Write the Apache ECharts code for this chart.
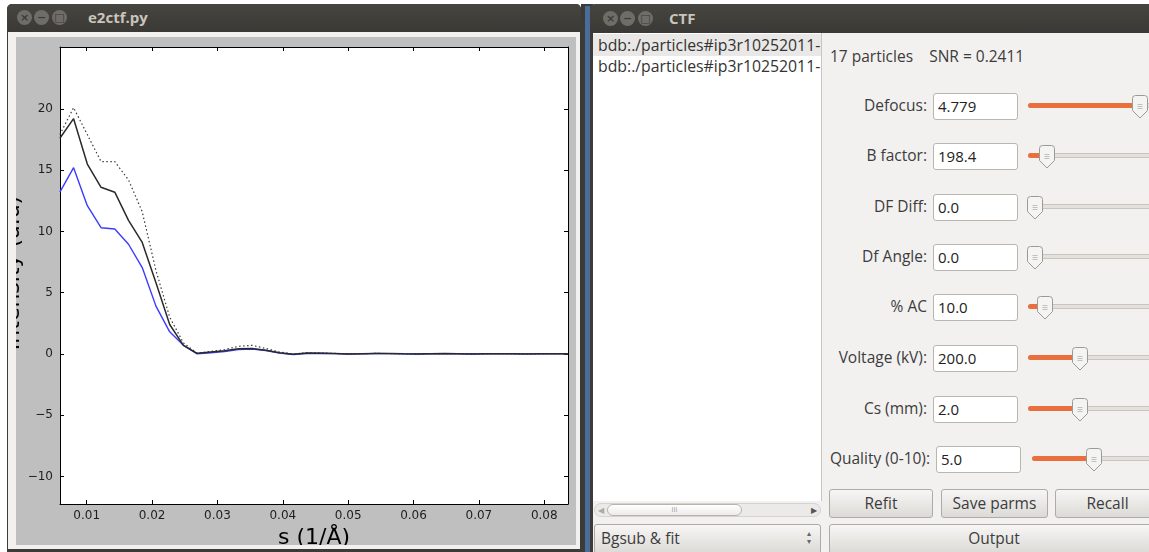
<!DOCTYPE html>
<html>
<head>
<meta charset="utf-8">
<title>e2ctf.py / CTF</title>
<script src="https://cdn.jsdelivr.net/npm/echarts@6/dist/echarts.min.js"></script>
<style>
html, body { margin: 0; padding: 0; width: 1149px; height: 552px; overflow: hidden; background: #ffffff; font-family: "Open Sans", "DejaVu Sans", sans-serif; }
.abs { position: absolute; box-sizing: border-box; }
.titlebar { background: linear-gradient(#46453f, #3a3935); color: #c9c5bc; font-weight: bold; font-size: 15px; }
.wbtn { position: absolute; width: 15px; height: 15px; border-radius: 50%; background: #6f6d68; color: #3c3b37; font-size: 11px; line-height: 15px; text-align: center; font-weight: bold; font-family: "DejaVu Sans", sans-serif; }
.lbl { color: #3c3c3c; font-size: 15.5px; text-align: right; white-space: nowrap; }
.inp { background: #fff; border: 1px solid #b9b6b0; border-radius: 3px; font-size: 15px; color: #222; padding-left: 4px; line-height: 24px; }
.track { height: 5px; border-radius: 3px; background: #e4e1dd; border: 1px solid #c8c4be; }
.fill { height: 5px; border-radius: 3px; background: #e9703c; }
.btn { background: linear-gradient(#f7f6f5, #dcdad6); border: 1px solid #aeaba6; border-radius: 3px; color: #3c3c3c; font-size: 15.5px; text-align: center; }
.item { font-size: 15.8px; color: #333; white-space: nowrap; padding-left: 4px; }
</style>
</head>
<body>
<!-- e2ctf.py window -->
<div class="abs" style="left:7px;top:4px;width:574px;height:548px;background:#3c3b37;border-radius:5px 5px 0 0;"></div>
<div class="abs titlebar" style="left:7px;top:4px;width:574px;height:28px;border-radius:5px 5px 0 0;">
  <div class="wbtn" style="left:10px;top:6px;">×</div>
  <div class="wbtn" style="left:27px;top:6px;">−</div>
  <div class="wbtn" style="left:45px;top:6px;">□</div>
  <div class="abs" style="left:81px;top:3px;">e2ctf.py</div>
</div>
<div class="abs" style="left:8px;top:32px;width:572px;height:517px;background:#f2f1f0;"></div>
<div id="chart" class="abs" style="left:16px;top:37px;width:560px;height:508px;"></div>

<!-- CTF window -->
<div class="abs" style="left:581px;top:4px;width:12px;height:548px;background:#3c3b37;"></div>
<div class="abs" style="left:585px;top:6px;width:5px;height:546px;background:#4b6c98;"></div>
<div class="abs titlebar" style="left:590px;top:4px;width:559px;height:29px;border-radius:5px 0 0 0;">
  <div class="wbtn" style="left:13px;top:7px;">×</div>
  <div class="wbtn" style="left:30px;top:7px;">−</div>
  <div class="wbtn" style="left:48px;top:7px;">□</div>
  <div class="abs" style="left:79px;top:4px;">CTF</div>
</div>
<div class="abs" style="left:593px;top:33px;width:556px;height:519px;background:#f2f1f0;"></div>
<div class="abs" style="left:593px;top:33px;width:229px;height:468px;background:#ffffff;border-right:1px solid #c9c6c0;"></div>
<div class="abs" style="left:593px;top:34px;width:228px;height:22px;background:#e9e8e6;"></div>
<div class="abs item" style="left:594px;top:34px;width:227px;overflow:hidden;">bdb:./particles#ip3r10252011-</div>
<div class="abs item" style="left:594px;top:55px;width:227px;overflow:hidden;">bdb:./particles#ip3r10252011-</div>
<!-- horizontal scrollbar -->
<div class="abs" style="left:594px;top:503px;width:227px;height:14px;background:#ebeae8;border-radius:7px;border:1px solid #d6d3ce;"></div>
<div class="abs" style="left:607px;top:504px;width:135px;height:12px;background:linear-gradient(#ffffff,#ecebea);border-radius:6px;border:1px solid #b7b4ae;font-size:7px;color:#999;text-align:center;line-height:10px;">III</div>
<div class="abs" style="left:598px;top:504px;font-size:8px;color:#aaa;">◀</div>
<div class="abs" style="left:811px;top:504px;font-size:8px;color:#555;">▶</div>
<!-- combo -->
<div class="abs btn" style="left:594px;top:524px;width:227px;height:30px;text-align:left;padding-left:6px;line-height:27px;">Bgsub &amp; fit</div>
<div class="abs" style="left:807px;top:529px;font-size:8px;color:#666;line-height:8px;">▴<br>▾</div>

<div class="abs lbl" style="left:830px;top:45px;text-align:left;">17 particles&nbsp;&nbsp;&nbsp; SNR = 0.2411</div>
<div id="rows"></div>

<div class="abs btn" style="left:829px;top:489px;width:104px;height:29px;line-height:26px;">Refit</div>
<div class="abs btn" style="left:941px;top:489px;width:107px;height:29px;line-height:26px;">Save parms</div>
<div class="abs btn" style="left:1055px;top:489px;width:105px;height:29px;line-height:26px;">Recall</div>
<div class="abs btn" style="left:829px;top:524px;width:330px;height:30px;line-height:27px;">Output</div>

<script>
// CTF parameter rows: label, field text, slider knob position
const paramLabels = ['Defocus:', 'B factor:', 'DF Diff:', 'Df Angle:', '% AC', 'Voltage (kV):', 'Cs (mm):', 'Quality (0-10):'];
const paramValues = ['4.779', '198.4', '0.0', '0.0', '10.0', '200.0', '2.0', '5.0'];
const rowY = [106, 156, 207, 257, 307, 358, 409, 459];
const knobX = [1140, 1047, 1035, 1035, 1045, 1080, 1080, 1094];

const rowsEl = document.getElementById('rows');
paramLabels.forEach((lab, i) => {
  const y = rowY[i];
  const sh = i === 7 ? 3 : 0;
  const trackL = 1028 + sh + (i === 7 ? 1 : 0);
  const hasFill = knobX[i] > trackL + 10;
  let html = '';
  html += `<div class="abs lbl" style="left:790px;width:${137 + sh}px;top:${y - 12}px;">${lab}</div>`;
  html += `<div class="abs inp" style="left:${933 + sh}px;top:${y - 13}px;width:85px;height:27px;">${paramValues[i]}</div>`;
  html += `<div class="abs track" style="left:${trackL}px;top:${y - 3}px;width:${1160 - trackL}px;"></div>`;
  if (hasFill) html += `<div class="abs fill" style="left:${trackL}px;top:${y - 3}px;width:${knobX[i] - trackL}px;"></div>`;
  html += `<svg class="abs" style="left:${knobX[i] - 8}px;top:${y - 11}px;" width="16" height="24" viewBox="0 0 16 24">
    <path d="M3.5,0.5 H12.5 Q15.5,0.5 15.5,3.5 V15.5 L8,23 L0.5,15.5 V3.5 Q0.5,0.5 3.5,0.5 Z" fill="#f4f4f3" stroke="#9c9a96"/>
    <path d="M5.5,9.5 H10.5 M5.5,11.5 H10.5 M5.5,13.5 H10.5" stroke="#c2c0bc"/></svg>`;
  rowsEl.insertAdjacentHTML('beforeend', html);
});

// Radial power spectrum data: s (1/Å) and intensities
const sValues = [0.0059, 0.0080, 0.0101, 0.0122, 0.0143, 0.0164, 0.0185, 0.0206, 0.0227, 0.0248,
  0.0269, 0.0290, 0.0311, 0.0332, 0.0353, 0.0374, 0.0395, 0.0416, 0.0437, 0.0458,
  0.0479, 0.0500, 0.0521, 0.0542, 0.0563, 0.0584, 0.0605, 0.0626, 0.0647, 0.0668,
  0.0689, 0.0710, 0.0731, 0.0752, 0.0773, 0.0794, 0.0815, 0.0836];
const fitCurve = [17.6, 19.2, 15.5, 13.6, 13.2, 10.9, 9.1, 5.8, 2.4, 0.7,
  0.05, 0.15, 0.25, 0.42, 0.45, 0.3, 0.1, -0.02, 0.08, 0.06,
  0.03, 0.0, 0.02, 0.04, 0.03, 0.01, 0.0, 0.02, 0.03, 0.02,
  0.0, 0.01, 0.02, 0.01, 0.0, 0.01, 0.02, 0.01];
const bgsubCurve = [13.2, 15.2, 12.1, 10.3, 10.2, 8.95, 7.05, 3.9, 1.8, 0.7,
  0.0, 0.1, 0.2, 0.35, 0.4, 0.28, 0.06, -0.05, 0.03, 0.05,
  0.02, -0.01, 0.0, 0.03, 0.02, 0.0, -0.01, 0.01, 0.02, 0.0,
  -0.01, 0.0, 0.02, 0.01, 0.0, 0.0, 0.01, 0.0];
const refCurve = [17.9, 20.1, 17.9, 15.7, 15.7, 14.2, 11.6, 6.8, 3.0, 0.9,
  0.05, 0.2, 0.35, 0.62, 0.7, 0.45, 0.15, 0.0, 0.1, 0.08,
  0.04, 0.0, 0.02, 0.04, 0.03, 0.01, 0.0, 0.02, 0.03, 0.02,
  0.0, 0.01, 0.02, 0.01, 0.0, 0.01, 0.02, 0.01];
const xTicks = [0.01, 0.02, 0.03, 0.04, 0.05, 0.06, 0.07, 0.08];
const yTicks = [-10, -5, 0, 5, 10, 15, 20];
const yTitle = 'Intensity (a.u)';

const pairs = (ys) => sValues.map((s, i) => [s, ys[i]]);
const fmtY = (v) => (v < 0 ? '\u2212' + Math.abs(v) : String(v));
const tickFont = { fontFamily: 'DejaVu Sans', fontSize: 12, color: '#1e1e1e' };

const xRange = { min: 0.00592, max: 0.08363 };
const yRange = { min: -12.25, max: 25.05 };

const chart = echarts.init(document.getElementById('chart'), null, { renderer: 'canvas' });
chart.setOption({
  backgroundColor: '#bfbfbf',
  animation: false,
  grid: {
    left: 44, top: 10, right: 8, bottom: 41,
    show: true, backgroundColor: '#ffffff', borderWidth: 0,
    containLabel: false, outerBoundsMode: 'none'
  },
  // y title sits partly outside the figure edge, so it is drawn as a rotated text
  graphic: [{
    type: 'text', x: 8, y: 236, rotation: Math.PI / 2, silent: true,
    style: { text: yTitle, fontFamily: 'DejaVu Sans', fontSize: 22, fill: '#000', align: 'center', verticalAlign: 'bottom' }
  }],
  xAxis: [{
    type: 'value', position: 'bottom', ...xRange,
    name: 's (1/Å)', nameLocation: 'middle', nameGap: 16,
    nameTextStyle: { fontFamily: 'DejaVu Sans', fontSize: 22, color: '#000' },
    axisLine: { show: true, onZero: false, lineStyle: { color: '#000', width: 1 } },
    axisTick: { show: true, inside: true, length: 4, customValues: xTicks, lineStyle: { color: '#000' } },
    axisLabel: { show: true, margin: 6, customValues: xTicks, formatter: (v) => v.toFixed(2), ...tickFont },
    splitLine: { show: false }
  }, {
    type: 'value', position: 'top', ...xRange,
    axisLine: { show: true, onZero: false, lineStyle: { color: '#000', width: 1 } },
    axisTick: { show: true, inside: true, length: 4, customValues: xTicks, lineStyle: { color: '#000' } },
    axisLabel: { show: false },
    splitLine: { show: false }
  }],
  yAxis: [{
    type: 'value', position: 'left', ...yRange,
    axisLine: { show: true, onZero: false, lineStyle: { color: '#000', width: 1 } },
    axisTick: { show: true, inside: true, length: 4, customValues: yTicks, lineStyle: { color: '#000' } },
    axisLabel: { show: true, margin: 7, customValues: yTicks, formatter: fmtY, ...tickFont },
    splitLine: { show: false }
  }, {
    type: 'value', position: 'right', ...yRange,
    axisLine: { show: true, onZero: false, lineStyle: { color: '#000', width: 1 } },
    axisTick: { show: true, inside: true, length: 4, customValues: yTicks, lineStyle: { color: '#000' } },
    axisLabel: { show: false },
    splitLine: { show: false }
  }],
  series: [{
    name: 'reference', type: 'line', data: pairs(refCurve), showSymbol: false, symbol: 'none',
    lineStyle: { color: '#3a3a3a', width: 1.2, type: [1.5, 2.5] }, z: 2
  }, {
    name: 'bgsub', type: 'line', data: pairs(bgsubCurve), showSymbol: false, symbol: 'none',
    lineStyle: { color: '#3b3bff', width: 1.4 }, z: 3
  }, {
    name: 'fit', type: 'line', data: pairs(fitCurve), showSymbol: false, symbol: 'none',
    lineStyle: { color: '#2a2a2a', width: 1.5 }, z: 4
  }]
});
</script>
</body>
</html>
